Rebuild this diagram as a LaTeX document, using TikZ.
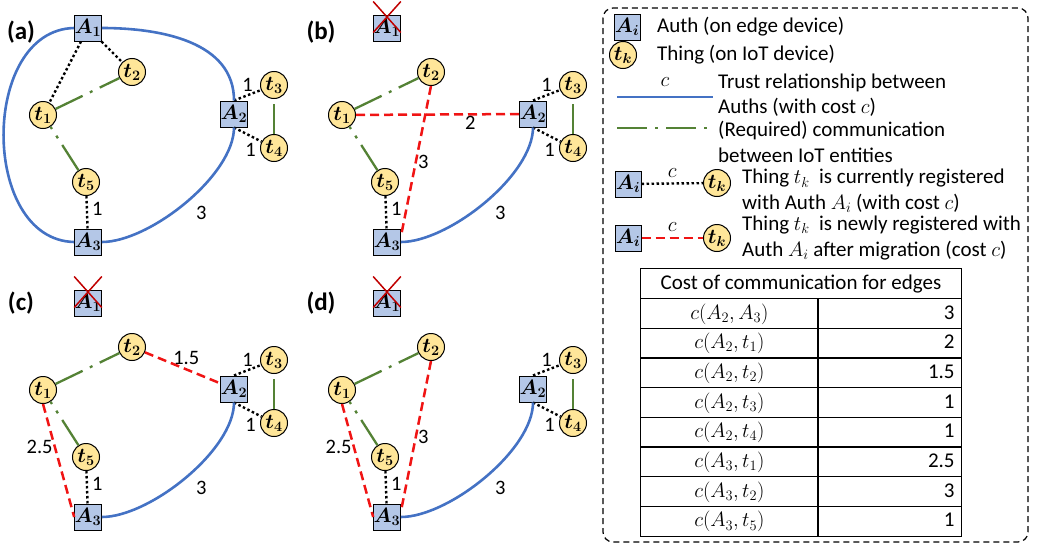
\documentclass[tikz,border=0pt]{standalone}
\usepackage{amsmath}
\usepackage{array}
\usepackage{fontspec}
\setmainfont{Carlito}
\usepackage{tikz}
\usetikzlibrary{positioning}
\definecolor{authblue}{RGB}{180,199,231}
\definecolor{thingyellow}{RGB}{255,230,153}
\definecolor{trustblue}{RGB}{68,114,196}
\definecolor{commgreen}{RGB}{84,130,53}
\definecolor{migred}{RGB}{240,20,20}
\definecolor{xred}{RGB}{192,0,0}
\tikzset{
  auth/.style={draw=black, line width=1pt, fill=authblue, minimum size=26pt, inner sep=0pt, font=\fontsize{19.5}{20}\selectfont},
  thing/.style={circle, draw=black, line width=1pt, fill=thingyellow, minimum size=27pt, inner sep=0pt, font=\fontsize{19.5}{20}\selectfont},
  trust/.style={draw=trustblue, line width=2.6pt},
  comm/.style={draw=commgreen, line width=2.3pt, dash pattern=on 30pt off 8pt on 3pt off 8pt},
  reg/.style={draw=black, line width=2.4pt, dash pattern=on 2.5pt off 2.5pt},
  newreg/.style={draw=migred, line width=2.5pt, dash pattern=on 9pt off 5pt},
  cost/.style={inner sep=1pt, font=\fontsize{20.5}{22}\selectfont},
  dead/.style={draw=xred, line width=1.5pt},
  panel/.style={inner sep=0pt, font=\bfseries\fontsize{25}{28}\selectfont},
  keytext/.style={anchor=west, inner sep=0pt, align=left, font=\fontsize{21}{25.5}\selectfont}
}
\newcommand{\entities}[1]{%
  \node[auth] (#1A1) at (88,28) {$\boldsymbol{A_1}$};
  \node[thing] (#1t1) at (43,115) {$\boldsymbol{t_1}$};
  \node[thing] (#1t2) at (132,72) {$\boldsymbol{t_2}$};
  \node[auth] (#1A2) at (234,114) {$\boldsymbol{A_2}$};
  \node[thing] (#1t3) at (274,85) {$\boldsymbol{t_3}$};
  \node[thing] (#1t4) at (274,148) {$\boldsymbol{t_4}$};
  \node[thing] (#1t5) at (86,182) {$\boldsymbol{t_5}$};
  \node[auth] (#1A3) at (88,242) {$\boldsymbol{A_3}$};
  \draw[comm] (#1t1) -- (#1t2);
  \draw[comm] (#1t5) -- (#1t1);
  \draw[comm] (#1t4) -- (#1t3);
  \draw[reg] (#1A2.north) -- node[cost, above=2pt] {1} (#1t3);
  \draw[reg] (#1A2.south) -- node[cost, below=5pt, pos=0.6] {1} (#1t4);
  \draw[reg] (#1t5) -- node[cost, right=3pt, pos=0.4] {1} (#1A3);
  \draw[trust] (#1A2.south) to[out=-90, in=0, looseness=0.7] node[cost, pos=0.45, below right, yshift=-8pt] {3} (#1A3.east);
}
\newcommand{\deadauth}[1]{%
  \draw[dead] ([yshift=13pt]#1A1.north west) -- ([yshift=9pt]#1A1.south east);
  \draw[dead] ([yshift=13pt]#1A1.north east) -- ([yshift=9pt]#1A1.south west);
}

\begin{document}
\begin{tikzpicture}[x=1pt, y=-1pt]
  \useasboundingbox (0,0) rectangle (1039,546);

  \begin{scope}
    \entities{a}
    \node[panel] (alab) at (21,32) {(a)};
    \draw[trust] (aA1.east) to[out=0, in=90] (aA2.north);
    \draw[trust] (aA3.west) .. controls (-20,240) and (-20,30) .. (aA1.west);
    \draw[reg] (aA1) -- (at1);
    \draw[reg] (aA1) -- (at2);
  \end{scope}

  \begin{scope}[shift={(299,0)}]
    \entities{b}
    \deadauth{b}
    \node[panel] (blab) at (22,32) {(b)};
    \draw[newreg] (bt1) -- node[cost, below, pos=0.7] {2} (bA2);
    \draw[newreg] (bt2.south) -- node[cost, right, pos=0.5] {3} (bA3.20);
  \end{scope}

  \begin{scope}[shift={(0,275)}]
    \entities{c}
    \deadauth{c}
    \node[panel] (clab) at (21,28) {(c)};
    \draw[newreg] (ct2) -- node[cost, above=2pt, pos=0.55] {1.5} (cA2);
    \draw[newreg] (ct1.south) -- node[cost, left, pos=0.38] {2.5} (cA3.west);
  \end{scope}

  \begin{scope}[shift={(299,275)}]
    \entities{d}
    \deadauth{d}
    \node[panel] (dlab) at (22,28) {(d)};
    \draw[newreg] (dt1.south) -- node[cost, left, pos=0.38] {2.5} (dA3.west);
    \draw[newreg] (dt2.south) -- node[cost, right, pos=0.5] {3} (dA3.20);
  \end{scope}

  \draw[line width=1.2pt, dash pattern=on 6pt off 4pt, rounded corners=10pt] (603,8) rectangle (1028,542);

  \node[auth] (keyA) at (627,27) {$\boldsymbol{A_i}$};
  \node[keytext] (keyAtxt) at (657,27) {Auth (on edge device)};
  \node[thing] (keyt) at (623,55) {$\boldsymbol{t_k}$};
  \node[keytext] (keyttxt) at (657,55) {Thing (on IoT device)};

  \coordinate (trustL) at (617,97);
  \coordinate (trustR) at (713,97);
  \draw[trust] (trustL) -- node[cost, above=8pt] {$c$} (trustR);
  \node[keytext] (trusttxt) at (718,95) {Trust relationship between\\Auths (with cost $c$)};

  \coordinate (commL) at (617,128);
  \coordinate (commR) at (713,128);
  \draw[comm] (commL) -- (commR);
  \node[keytext] (commtxt) at (718,142) {(Required) communication\\between IoT entities};

  \node[auth] (curA) at (628,184) {$\boldsymbol{A_i}$};
  \node[thing] (curt) at (717,183) {$\boldsymbol{t_k}$};
  \draw[reg] (curA) -- node[cost, above=4pt] {$c$} (curt);
  \node[keytext] (curtxt) at (742,191) {Thing $t_k$\ \ is currently registered\\with Auth $A_i$ (with cost $c$)};

  \node[auth] (newA) at (628,238) {$\boldsymbol{A_i}$};
  \node[thing] (newt) at (717,238) {$\boldsymbol{t_k}$};
  \draw[newreg] (newA) -- node[cost, above=4pt] {$c$} (newt);
  \node[keytext] (newtxt) at (742,238) {Thing $t_k$\ \ is newly registered with\\Auth $A_i$ after migration (cost $c$)};

  \node[anchor=north west, inner sep=0pt, font=\fontsize{21}{28.5}\selectfont] (costtab) at (640,268) {%
    \setlength{\tabcolsep}{6pt}\setlength{\arrayrulewidth}{1.2pt}%
    \begin{tabular}{|>{\centering\arraybackslash}p{164pt}|>{\raggedleft\arraybackslash}p{130pt}|}
      \hline
      \multicolumn{2}{|c|}{Cost of communication for edges}\\ \hline
      $c(A_2,A_3)$ & 3\\ \hline
      $c(A_2,t_1)$ & 2\\ \hline
      $c(A_2,t_2)$ & 1.5\\ \hline
      $c(A_2,t_3)$ & 1\\ \hline
      $c(A_2,t_4)$ & 1\\ \hline
      $c(A_3,t_1)$ & 2.5\\ \hline
      $c(A_3,t_2)$ & 3\\ \hline
      $c(A_3,t_5)$ & 1\\ \hline
    \end{tabular}};
\end{tikzpicture}
\end{document}
